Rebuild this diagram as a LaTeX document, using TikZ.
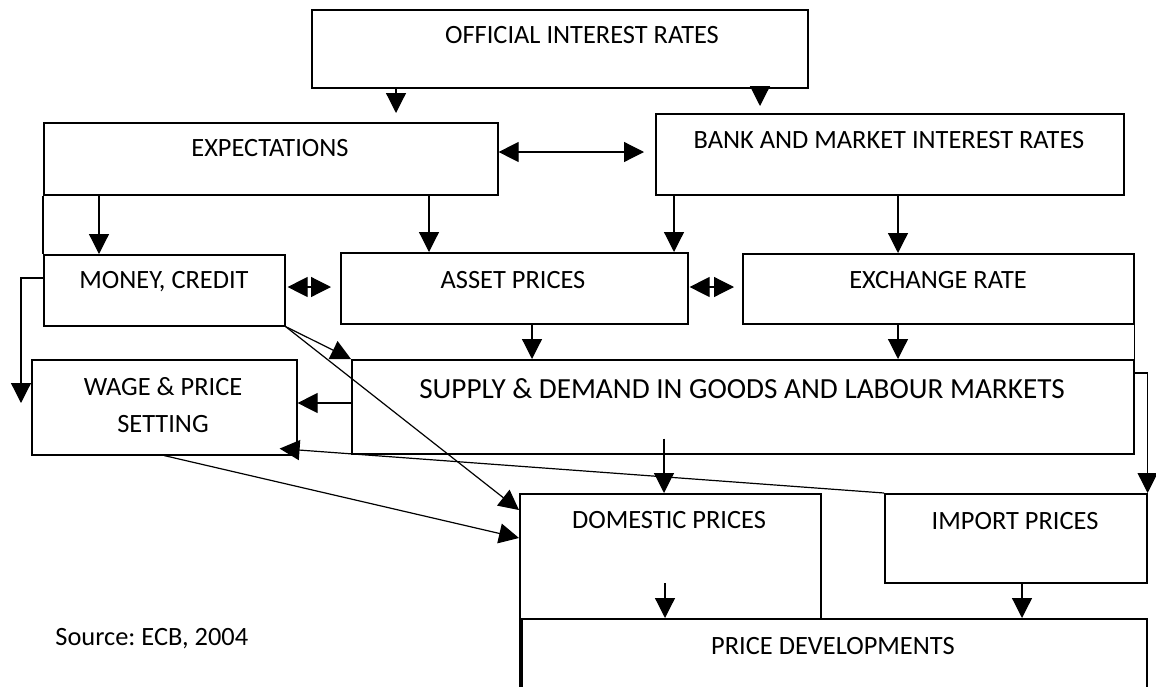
\documentclass[tikz,border=0pt]{standalone}
\usepackage{fontspec}
\setmainfont{Carlito}
\frenchspacing
\usepackage{tikz}
\usetikzlibrary{positioning}
\usetikzlibrary {arrows.meta}
\usetikzlibrary{calc}

\begin{document}
\begin{tikzpicture}[x=0.5pt,y=-0.5pt,
		box/.style={draw,line width=0.8pt,anchor=north west,inner sep=0pt},
		lbl/.style={font=\fontsize{13.2}{18.5}\selectfont,inner sep=0pt,text height=8.5pt,text depth=0pt},
		arr/.style={-{Triangle[length=10pt,width=10pt]},line width=0.6pt},
		darr/.style={{Triangle[length=10pt,width=10pt]}-{Triangle[length=10pt,width=10pt]},line width=0.6pt}]
		\clip (0,0) rectangle (1156,686);
		
		% boxes
		\node[box,minimum width=248pt,minimum height=39pt] (off) at (311,9) {};
		\node[box,minimum width=227pt,minimum height=36pt] (expect) at (43,122) {};
		\node[box,minimum width=234pt,minimum height=40.5pt] (bank) at (655,113) {};
		\node[box,minimum width=120.5pt,minimum height=35.5pt] (money) at (43,254) {};
		\node[box,minimum width=173.5pt,minimum height=35.5pt] (asset) at (340,252) {};
		\node[box,minimum width=195.5pt,minimum height=35pt] (exch) at (742,253) {};
		\node[box,minimum width=132.5pt,minimum height=47.5pt] (wage) at (31,359) {};
		\node[box,minimum width=391pt,minimum height=47pt] (supply) at (351,359) {};
		\node[box,minimum width=150.5pt,minimum height=113.5pt] (dom) at (519,493) {};
		\node[box,minimum width=131pt,minimum height=44.5pt] (imp) at (884,493) {};
		\node[box,fill=white,minimum width=312.5pt,minimum height=51pt] (price) at (521,618) {};
		
		% texts
		\node[lbl] (offT) at (582,35) {OFFICIAL INTEREST RATES};
		\node[lbl] (expectT) at (270,148) {EXPECTATIONS};
		\node[lbl] (bankT) at (889,140) {BANK AND MARKET INTEREST RATES};
		\node[lbl] (moneyT) at (164,280) {MONEY, CREDIT};
		\node[lbl] (assetT) at (513,280) {ASSET PRICES};
		\node[lbl] (exchT) at (938,280) {EXCHANGE RATE};
		\node[font=\fontsize{13.2}{18.5}\selectfont,inner sep=0pt,align=center] (wageT) at (163,405.5) {WAGE \& PRICE\\SETTING};
		\node[lbl,font=\fontsize{14.6}{18.5}\selectfont,text height=9.4pt] (supplyT) at (742,389) {SUPPLY \& DEMAND IN GOODS AND LABOUR MARKETS};
		\node[lbl] (domT) at (669,520) {DOMESTIC PRICES};
		\node[lbl] (impT) at (1015,521) {IMPORT PRICES};
		\node[lbl] (priceT) at (833,646) {PRICE DEVELOPMENTS};
		\node[lbl,anchor=west] (src) at (55,637) {Source: ECB, 2004};
		
		% connectors
		\draw[arr] (off.south -| 396,0) -- ($(expect.north -| 396,0)+(0,-9)$);
		\draw[arr] (off.south -| 760,0) -- ($(bank.north -| 760,0)+(0,-7)$);
		\draw[darr] (expect.east |- 0,152) -- ($(bank.west |- 0,152)+(-11,0)$);
		
		\draw[line width=0.8pt] (expect.south west) -- (money.north west);
		\draw[arr] (expect.south -| 99,0) -- (money.north -| 99,0);
		\draw[arr] (expect.south -| 429,0) -- (asset.north -| 429,0);
		\draw[arr] (bank.south -| 674,0) -- (asset.north -| 674,0);
		\draw[arr] (bank.south -| 898,0) -- (exch.north -| 898,0);
		
		\draw[darr] ($(money.east |- 0,287)+(2,0)$) -- ($(asset.west |- 0,287)+(-9,0)$);
		\draw[darr] ($(asset.east |- 0,287)+(1,0)$) -- ($(exch.west |- 0,287)+(-8,0)$);
		
		\draw[arr] (asset.south -| 532,0) -- (supply.north -| 532,0);
		\draw[arr] (exch.south -| 898,0) -- (supply.north -| 898,0);
		\draw[line width=0.8pt] (exch.south east) -- (supply.north east);
		
		\coordinate (mcEnd) at (21,403);
		\draw[arr] (money.west |- 0,278) -| (mcEnd);
		\draw[arr] (money.south east) -- (supply.north west);
		\draw[arr] (money.south east) -- ($(dom.north west)+(0,17)$);
		
		\draw[arr] (supply.west |- 0,403) -- (wage.east |- 0,403);
		\draw[arr] (imp.north west) -- ($(wage.south east)+(-18,-7)$);
		\draw[arr] (wage.south) -- ($(dom.north west)+(0,45)$);
		
		\draw[arr] ($(supply.south -| 664,0)+(0,-16)$) -- (dom.north -| 664,0);
		\draw[arr] (supply.east |- 0,373) -| (imp.north east);
		
		\draw[arr] ($(price.north -| 665,0)+(0,-35)$) -- (price.north -| 665,0);
		\draw[arr] (imp.south -| 1022,0) -- (price.north -| 1022,0);
	\end{tikzpicture}
\end{document}
